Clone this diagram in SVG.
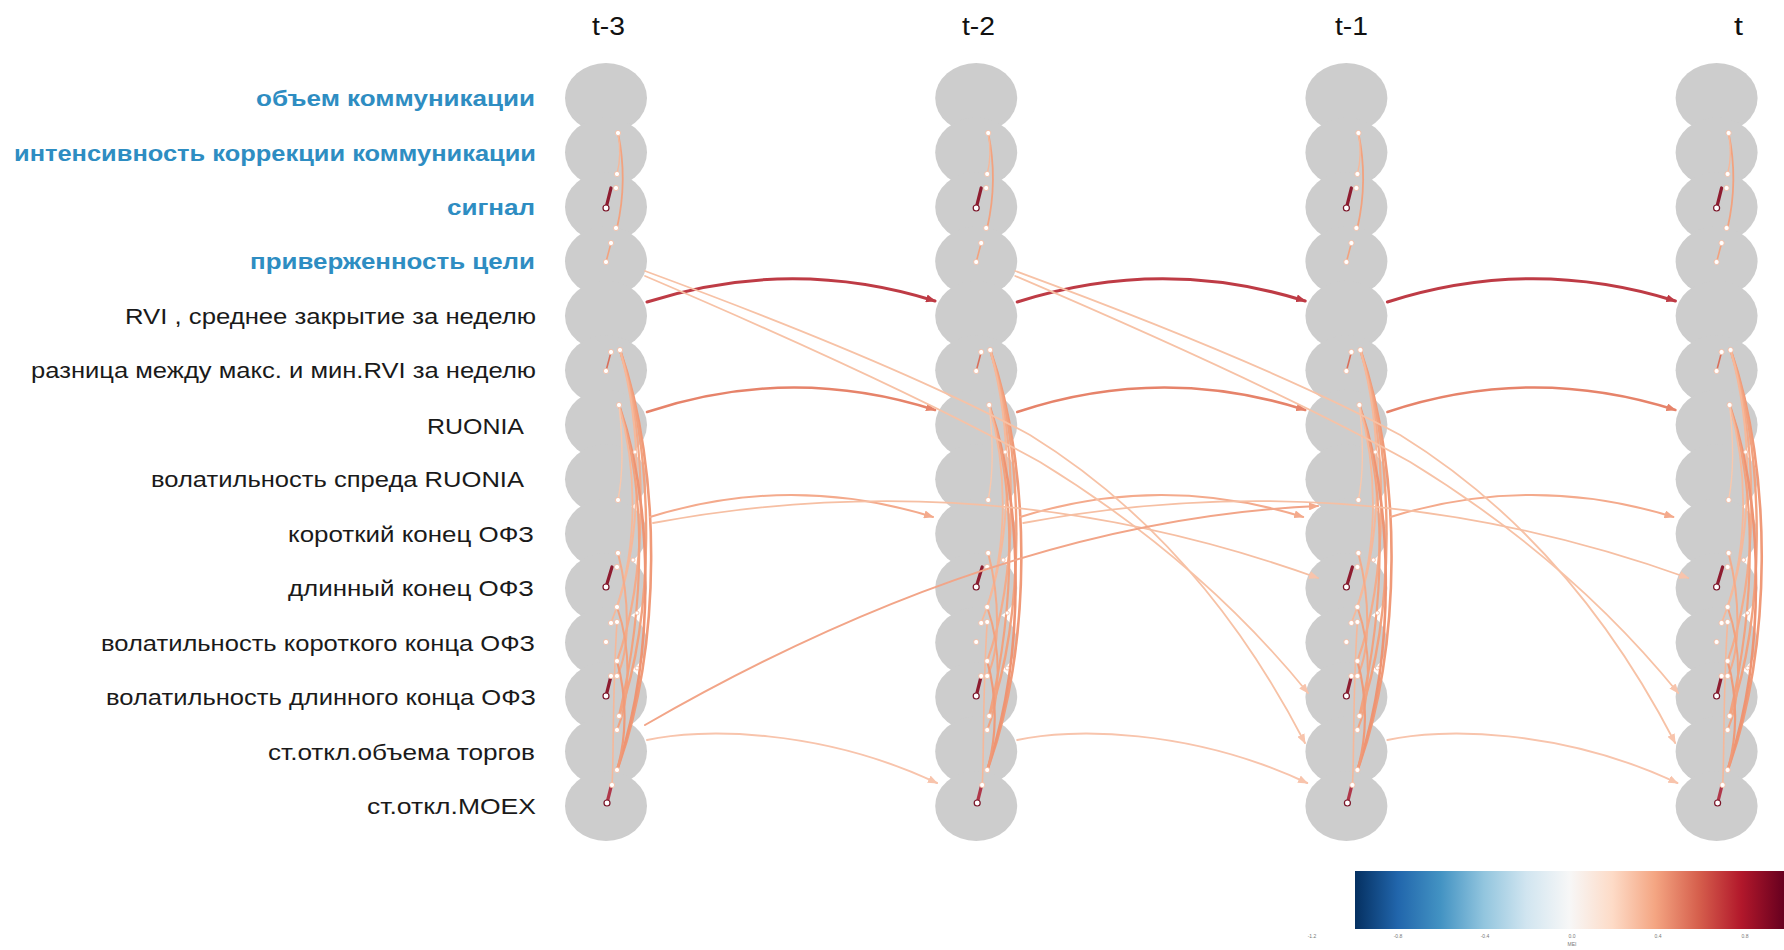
<svg xmlns="http://www.w3.org/2000/svg" xmlns:xlink="http://www.w3.org/1999/xlink" width="1784" height="950" viewBox="0 0 1784 950">
<style>
.node{fill:#cdcdcd;}
.lbl{font-family:"Liberation Sans",Arial,sans-serif;font-size:22px;fill:#1a1a1a;}
.lblb{font-family:"Liberation Sans",Arial,sans-serif;font-size:22px;font-weight:bold;fill:#2e8dc2;}
.ttl{font-family:"Liberation Sans",Arial,sans-serif;font-size:25px;fill:#111;}
.tick{font-family:"Liberation Sans",Arial,sans-serif;font-size:5px;fill:#777;text-anchor:middle;}
.e{fill:none;stroke-linecap:round;}
.dot{fill:#fff;stroke:#f2b9a0;stroke-width:0.8;}
.ring{fill:#fff;stroke:#7a1428;stroke-width:1.2;}
.dr{fill:none;stroke:#8e1c30;stroke-width:3.2;stroke-linecap:round;}
</style>
<defs>
<linearGradient id="rdbu" x1="0" y1="0" x2="1" y2="0">
<stop offset="0" stop-color="#053061"/><stop offset="0.1" stop-color="#2166ac"/><stop offset="0.2" stop-color="#4393c3"/><stop offset="0.3" stop-color="#92c5de"/><stop offset="0.4" stop-color="#d1e5f0"/><stop offset="0.5" stop-color="#f7f7f7"/><stop offset="0.6" stop-color="#fddbc7"/><stop offset="0.7" stop-color="#f4a582"/><stop offset="0.8" stop-color="#d6604d"/><stop offset="0.9" stop-color="#b2182b"/><stop offset="1" stop-color="#67001f"/>
</linearGradient>
<marker id="aR" viewBox="0 0 10 8" refX="9" refY="4" markerWidth="10" markerHeight="8" orient="auto" markerUnits="userSpaceOnUse"><path d="M0,0 L10,4 L0,8 z" fill="#be3b45"/></marker>
<marker id="aO" viewBox="0 0 10 8" refX="9" refY="4" markerWidth="10" markerHeight="8" orient="auto" markerUnits="userSpaceOnUse"><path d="M0,0 L10,4 L0,8 z" fill="#e6836a"/></marker>
<marker id="aL" viewBox="0 0 10 8" refX="9" refY="4" markerWidth="10" markerHeight="8" orient="auto" markerUnits="userSpaceOnUse"><path d="M0,0 L10,4 L0,8 z" fill="#f4aa8c"/></marker>
<marker id="aP" viewBox="0 0 10 8" refX="9" refY="4" markerWidth="10" markerHeight="8" orient="auto" markerUnits="userSpaceOnUse"><path d="M0,0 L10,4 L0,8 z" fill="#f8c4ac"/></marker>
<g id="intra">
<path class="e" d="M618,133 Q628,180 617,228" stroke="#f2a27f" stroke-width="1.8"/>
<path class="e" d="M618,133 Q622,155 617,174" stroke="#f6b89a" stroke-width="1.4"/>
<path class="e" d="M611,243 L606,262" stroke="#f2a27f" stroke-width="1.6"/>
<path class="e" d="M611,352 L606,371" stroke="#d9705c" stroke-width="1.6"/>
<path class="e" d="M620,350 C662,470 662,650 617,770" stroke="#f09a78" stroke-width="2.6"/>
<path class="e" d="M620,350 C656,460 654,620 619,716" stroke="#f2a27f" stroke-width="2.4"/>
<path class="e" d="M620,350 C650,450 646,580 617,661" stroke="#f4ab8a" stroke-width="2.2"/>
<path class="e" d="M620,350 C645,440 640,540 617,607" stroke="#f6b89a" stroke-width="2"/>
<path class="e" d="M619,405 C652,500 657,650 617,770" stroke="#ee9473" stroke-width="2.6"/>
<path class="e" d="M619,405 C646,490 646,600 619,716" stroke="#f2a27f" stroke-width="2.2"/>
<path class="e" d="M619,405 C640,480 636,560 611,623" stroke="#f6b89a" stroke-width="1.8"/>
<path class="e" d="M619,405 C624,450 622,480 618,500" stroke="#f8c8ae" stroke-width="1.4"/>
<path class="e" d="M618,553 C630,600 630,650 617,676" stroke="#f4ab8a" stroke-width="2"/>
<path class="e" d="M617,607 C632,650 630,700 617,730" stroke="#f2a27f" stroke-width="2"/>
<path class="e" d="M617,661 C628,700 626,740 617,770" stroke="#f09a78" stroke-width="2.2"/>
<path class="e" d="M617,622 C612,700 614,760 612,785" stroke="#f6b89a" stroke-width="1.6"/>
<path class="dr" d="M606,208 L611,188"/>
<path class="dr" d="M606,587 L612,567"/>
<path class="dr" d="M606,696 L611,676"/>
<path class="dr" d="M607,803 L611,787" style="stroke:#b0384a"/>
<circle class="dot" cx="618" cy="133" r="2.6"/><circle class="dot" cx="617" cy="174" r="2.6"/><circle class="dot" cx="616" cy="188" r="2.6"/><circle class="dot" cx="616" cy="228" r="2.6"/><circle class="dot" cx="611" cy="243" r="2.6"/><circle class="dot" cx="606" cy="262" r="2.6"/>
<circle class="dot" cx="611" cy="352" r="2.6"/><circle class="dot" cx="620" cy="350" r="2.6"/><circle class="dot" cx="606" cy="371" r="2.6"/><circle class="dot" cx="619" cy="405" r="2.6"/><circle class="dot" cx="635" cy="452" r="2"/><circle class="dot" cx="618" cy="500" r="2.6"/><circle class="dot" cx="618" cy="553" r="2.6"/><circle class="dot" cx="617" cy="567" r="2.6"/><circle class="dot" cx="633" cy="560" r="2"/>
<circle class="dot" cx="617" cy="607" r="2.6"/><circle class="dot" cx="611" cy="623" r="2.6"/><circle class="dot" cx="617" cy="622" r="2.6"/><circle class="dot" cx="606" cy="642" r="2.6"/><circle class="dot" cx="637" cy="613" r="2"/><circle class="dot" cx="617" cy="661" r="2.6"/><circle class="dot" cx="617" cy="676" r="2.6"/><circle class="dot" cx="611" cy="676" r="2.6"/><circle class="dot" cx="637" cy="668" r="2"/>
<circle class="dot" cx="619" cy="716" r="2.6"/><circle class="dot" cx="617" cy="730" r="2.6"/><circle class="dot" cx="617" cy="770" r="2.6"/><circle class="dot" cx="612" cy="785" r="2.6"/>
<circle class="ring" cx="606" cy="208" r="3"/><circle class="ring" cx="606" cy="587" r="3"/><circle class="ring" cx="606" cy="696" r="3"/><circle class="ring" cx="607" cy="803" r="3"/>
</g>
<g id="lag1">
<path class="e" d="M647,302 Q791,256 935,301" stroke="#be3b45" stroke-width="3" marker-end="url(#aR)"/>
<path class="e" d="M647,412 Q791,364 935,410" stroke="#e6836a" stroke-width="2.5" marker-end="url(#aO)"/>
<path class="e" d="M650,517 Q791,473 933,517" stroke="#f4aa8c" stroke-width="2" marker-end="url(#aL)"/>
<path class="e" d="M647,740 C700,728 820,728 937,783" stroke="#f8c4ac" stroke-width="2" marker-end="url(#aP)"/>
</g>
<g id="lag2">
<path class="e" d="M645,271 Q900,365 1030,435 Q1200,540 1305,743" stroke="#f7c2a6" stroke-width="1.8" marker-end="url(#aP)"/>
<path class="e" d="M645,276 Q900,385 1040,462 Q1200,560 1308,693" stroke="#f7c2a6" stroke-width="1.8" marker-end="url(#aP)"/>
<path class="e" d="M653,523 Q990,460 1318,578" stroke="#f6bfa3" stroke-width="1.8" marker-end="url(#aP)"/>
</g>
</defs>
<rect width="1784" height="950" fill="#fff"/>
<g id="titles">
<text class="ttl" x="592" y="35" textLength="33" lengthAdjust="spacingAndGlyphs">t-3</text>
<text class="ttl" x="962" y="35" textLength="33" lengthAdjust="spacingAndGlyphs">t-2</text>
<text class="ttl" x="1335" y="35" textLength="33" lengthAdjust="spacingAndGlyphs">t-1</text>
<text class="ttl" x="1734" y="35" textLength="9" lengthAdjust="spacingAndGlyphs">t</text>
</g>
<g id="labels">
<text class="lblb" x="256" y="106" textLength="279" lengthAdjust="spacingAndGlyphs">объем коммуникации</text>
<text class="lblb" x="14" y="160.5" textLength="522" lengthAdjust="spacingAndGlyphs">интенсивность коррекции коммуникации</text>
<text class="lblb" x="447" y="215" textLength="88" lengthAdjust="spacingAndGlyphs">сигнал</text>
<text class="lblb" x="250" y="269.4" textLength="285" lengthAdjust="spacingAndGlyphs">приверженность цели</text>
<text class="lbl" x="125" y="323.8" textLength="411" lengthAdjust="spacingAndGlyphs">RVI , среднее закрытие за неделю</text>
<text class="lbl" x="31" y="378.3" textLength="505" lengthAdjust="spacingAndGlyphs">разница между макс. и мин.RVI за неделю</text>
<text class="lbl" x="427" y="433.8" textLength="97" lengthAdjust="spacingAndGlyphs">RUONIA</text>
<text class="lbl" x="151" y="487.2" textLength="373" lengthAdjust="spacingAndGlyphs">волатильность спреда RUONIA</text>
<text class="lbl" x="288" y="541.7" textLength="246" lengthAdjust="spacingAndGlyphs">короткий конец ОФЗ</text>
<text class="lbl" x="288" y="596.1" textLength="246" lengthAdjust="spacingAndGlyphs">длинный конец ОФЗ</text>
<text class="lbl" x="101" y="650.6" textLength="434" lengthAdjust="spacingAndGlyphs">волатильность короткого конца ОФЗ</text>
<text class="lbl" x="106" y="705" textLength="430" lengthAdjust="spacingAndGlyphs">волатильность длинного конца ОФЗ</text>
<text class="lbl" x="268" y="759.5" textLength="267" lengthAdjust="spacingAndGlyphs">ст.откл.объема торгов</text>
<text class="lbl" x="367" y="813.9" textLength="169" lengthAdjust="spacingAndGlyphs">ст.откл.MOEX</text>
</g>
<g id="nodes-t3">
<g id="n-t3-1"><ellipse class="node" cx="606" cy="98" rx="41" ry="35"/></g>
<g id="n-t3-2"><ellipse class="node" cx="606" cy="152.5" rx="41" ry="35"/></g>
<g id="n-t3-3"><ellipse class="node" cx="606" cy="206.9" rx="41" ry="35"/></g>
<g id="n-t3-4"><ellipse class="node" cx="606" cy="261.4" rx="41" ry="35"/></g>
<g id="n-t3-5"><ellipse class="node" cx="606" cy="315.8" rx="41" ry="35"/></g>
<g id="n-t3-6"><ellipse class="node" cx="606" cy="370.3" rx="41" ry="35"/></g>
<g id="n-t3-7"><ellipse class="node" cx="606" cy="424.8" rx="41" ry="35"/></g>
<g id="n-t3-8"><ellipse class="node" cx="606" cy="479.2" rx="41" ry="35"/></g>
<g id="n-t3-9"><ellipse class="node" cx="606" cy="533.7" rx="41" ry="35"/></g>
<g id="n-t3-10"><ellipse class="node" cx="606" cy="588.1" rx="41" ry="35"/></g>
<g id="n-t3-11"><ellipse class="node" cx="606" cy="642.6" rx="41" ry="35"/></g>
<g id="n-t3-12"><ellipse class="node" cx="606" cy="697" rx="41" ry="35"/></g>
<g id="n-t3-13"><ellipse class="node" cx="606" cy="751.5" rx="41" ry="35"/></g>
<g id="n-t3-14"><ellipse class="node" cx="606" cy="805.9" rx="41" ry="35"/></g>
</g>
<g id="nodes-t2">
<g id="n-t2-1"><ellipse class="node" cx="976.2" cy="98" rx="41" ry="35"/></g>
<g id="n-t2-2"><ellipse class="node" cx="976.2" cy="152.5" rx="41" ry="35"/></g>
<g id="n-t2-3"><ellipse class="node" cx="976.2" cy="206.9" rx="41" ry="35"/></g>
<g id="n-t2-4"><ellipse class="node" cx="976.2" cy="261.4" rx="41" ry="35"/></g>
<g id="n-t2-5"><ellipse class="node" cx="976.2" cy="315.8" rx="41" ry="35"/></g>
<g id="n-t2-6"><ellipse class="node" cx="976.2" cy="370.3" rx="41" ry="35"/></g>
<g id="n-t2-7"><ellipse class="node" cx="976.2" cy="424.8" rx="41" ry="35"/></g>
<g id="n-t2-8"><ellipse class="node" cx="976.2" cy="479.2" rx="41" ry="35"/></g>
<g id="n-t2-9"><ellipse class="node" cx="976.2" cy="533.7" rx="41" ry="35"/></g>
<g id="n-t2-10"><ellipse class="node" cx="976.2" cy="588.1" rx="41" ry="35"/></g>
<g id="n-t2-11"><ellipse class="node" cx="976.2" cy="642.6" rx="41" ry="35"/></g>
<g id="n-t2-12"><ellipse class="node" cx="976.2" cy="697" rx="41" ry="35"/></g>
<g id="n-t2-13"><ellipse class="node" cx="976.2" cy="751.5" rx="41" ry="35"/></g>
<g id="n-t2-14"><ellipse class="node" cx="976.2" cy="805.9" rx="41" ry="35"/></g>
</g>
<g id="nodes-t1">
<g id="n-t1-1"><ellipse class="node" cx="1346.4" cy="98" rx="41" ry="35"/></g>
<g id="n-t1-2"><ellipse class="node" cx="1346.4" cy="152.5" rx="41" ry="35"/></g>
<g id="n-t1-3"><ellipse class="node" cx="1346.4" cy="206.9" rx="41" ry="35"/></g>
<g id="n-t1-4"><ellipse class="node" cx="1346.4" cy="261.4" rx="41" ry="35"/></g>
<g id="n-t1-5"><ellipse class="node" cx="1346.4" cy="315.8" rx="41" ry="35"/></g>
<g id="n-t1-6"><ellipse class="node" cx="1346.4" cy="370.3" rx="41" ry="35"/></g>
<g id="n-t1-7"><ellipse class="node" cx="1346.4" cy="424.8" rx="41" ry="35"/></g>
<g id="n-t1-8"><ellipse class="node" cx="1346.4" cy="479.2" rx="41" ry="35"/></g>
<g id="n-t1-9"><ellipse class="node" cx="1346.4" cy="533.7" rx="41" ry="35"/></g>
<g id="n-t1-10"><ellipse class="node" cx="1346.4" cy="588.1" rx="41" ry="35"/></g>
<g id="n-t1-11"><ellipse class="node" cx="1346.4" cy="642.6" rx="41" ry="35"/></g>
<g id="n-t1-12"><ellipse class="node" cx="1346.4" cy="697" rx="41" ry="35"/></g>
<g id="n-t1-13"><ellipse class="node" cx="1346.4" cy="751.5" rx="41" ry="35"/></g>
<g id="n-t1-14"><ellipse class="node" cx="1346.4" cy="805.9" rx="41" ry="35"/></g>
</g>
<g id="nodes-t">
<g id="n-t-1"><ellipse class="node" cx="1716.6" cy="98" rx="41" ry="35"/></g>
<g id="n-t-2"><ellipse class="node" cx="1716.6" cy="152.5" rx="41" ry="35"/></g>
<g id="n-t-3"><ellipse class="node" cx="1716.6" cy="206.9" rx="41" ry="35"/></g>
<g id="n-t-4"><ellipse class="node" cx="1716.6" cy="261.4" rx="41" ry="35"/></g>
<g id="n-t-5"><ellipse class="node" cx="1716.6" cy="315.8" rx="41" ry="35"/></g>
<g id="n-t-6"><ellipse class="node" cx="1716.6" cy="370.3" rx="41" ry="35"/></g>
<g id="n-t-7"><ellipse class="node" cx="1716.6" cy="424.8" rx="41" ry="35"/></g>
<g id="n-t-8"><ellipse class="node" cx="1716.6" cy="479.2" rx="41" ry="35"/></g>
<g id="n-t-9"><ellipse class="node" cx="1716.6" cy="533.7" rx="41" ry="35"/></g>
<g id="n-t-10"><ellipse class="node" cx="1716.6" cy="588.1" rx="41" ry="35"/></g>
<g id="n-t-11"><ellipse class="node" cx="1716.6" cy="642.6" rx="41" ry="35"/></g>
<g id="n-t-12"><ellipse class="node" cx="1716.6" cy="697" rx="41" ry="35"/></g>
<g id="n-t-13"><ellipse class="node" cx="1716.6" cy="751.5" rx="41" ry="35"/></g>
<g id="n-t-14"><ellipse class="node" cx="1716.6" cy="805.9" rx="41" ry="35"/></g>
</g>
<g id="connectors">
<use href="#intra"/>
<use href="#intra" transform="translate(370.2,0)"/>
<use href="#intra" transform="translate(740.4,0)"/>
<use href="#intra" transform="translate(1110.6,0)"/>
<use href="#lag1"/>
<use href="#lag1" transform="translate(370.2,0)"/>
<use href="#lag1" transform="translate(740.4,0)"/>
<use href="#lag2"/>
<use href="#lag2" transform="translate(370.2,0)"/>
<path class="e" d="M645,725 Q1000,520 1318,506" stroke="#f2a588" stroke-width="2" marker-end="url(#aL)"/>
</g>
<g id="colorbar">
<rect x="1355" y="871" width="429" height="58" fill="url(#rdbu)"/>
<text class="tick" x="1312" y="938">-1.2</text>
<text class="tick" x="1398" y="938">-0.8</text>
<text class="tick" x="1485" y="938">-0.4</text>
<text class="tick" x="1572" y="938">0.0</text>
<text class="tick" x="1658" y="938">0.4</text>
<text class="tick" x="1745" y="938">0.8</text>
<text class="tick" x="1572" y="946">MEI</text>
</g>
</svg>
